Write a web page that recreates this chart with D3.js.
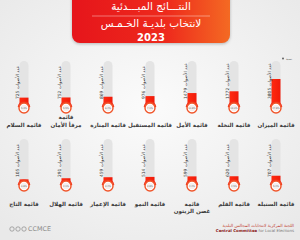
<!DOCTYPE html>
<html><head><meta charset="utf-8">
<script src="https://cdn.jsdelivr.net/npm/d3@7"></script>
<style>html,body{margin:0;padding:0;background:#f1f1f1;}svg{display:block;}</style>
</head><body>
<script>
// ---- data (right-to-left order, two rows) ----
const rowTopLists = ["قائمة الميزان","قائمة النخلة","قائمة الأمل","قائمة المستقبل","قائمة المنارة","قائمة|مرفأ الأمان","قائمة السلام"];
const rowTopVotes = [3805, 1772, 1479, 976, 869, 752, 725];
const rowBottomLists = ["قائمة السنبلة","قائمة القلم","قائمة|غصن الزيتون","قائمة النمو","قائمة الإعمار","قائمة الهلال","قائمة التاج"];
const rowBottomVotes = [707, 620, 599, 514, 459, 291, 105];
const titleLines = ["النتـــائج المبـــدئية", "لانتخاب بلديـة الخـمـس", "2023"];
const voteWord = "عدد الأصوات";

const W = 300, H = 240;
const svg = d3.select("body").append("svg").attr("width", W).attr("height", H);
const defs = svg.append("defs");
const bg = defs.append("radialGradient").attr("id","bg").attr("cx","50%").attr("cy","45%").attr("r","70%");
bg.append("stop").attr("offset","0%").attr("stop-color","#fbfbfb");
bg.append("stop").attr("offset","100%").attr("stop-color","#e9e9e9");
const hg = defs.append("linearGradient").attr("id","hg").attr("x1","0").attr("x2","1");
hg.append("stop").attr("offset","0%").attr("stop-color","#e6151b");
hg.append("stop").attr("offset","60%").attr("stop-color","#ee2a1c");
hg.append("stop").attr("offset","100%").attr("stop-color","#f46a23");
const fg = defs.append("linearGradient").attr("id","fg").attr("x1","0").attr("x2","1");
fg.append("stop").attr("offset","0%").attr("stop-color","#ff2a10");
fg.append("stop").attr("offset","100%").attr("stop-color","#f01a0a");

svg.append("rect").attr("width",W).attr("height",H).attr("fill","url(#bg)");

// header
const hdr = svg.append("g");
hdr.append("rect").attr("x",72).attr("y",-12).attr("width",158).attr("height",55).attr("rx",8)
  .attr("fill","url(#hg)").style("filter","drop-shadow(0 1px 1.5px rgba(0,0,0,0.25))");
const font = "'DejaVu Sans', sans-serif";
hdr.append("text").attr("x",151).attr("y",10).attr("text-anchor","middle").attr("fill","#fff")
  .attr("font-family",font).attr("font-size",10.5).attr("direction","rtl").text(titleLines[0]);
hdr.append("line").attr("x1",92).attr("x2",210).attr("y1",16).attr("y2",16).attr("stroke","#fff").attr("stroke-width",0.5).attr("opacity",0.8);
hdr.append("text").attr("x",151).attr("y",27).attr("text-anchor","middle").attr("fill","#fff")
  .attr("font-family",font).attr("font-size",10.5).attr("direction","rtl").text(titleLines[1]);
hdr.append("text").attr("x",151).attr("y",41).attr("text-anchor","middle").attr("fill","#fff")
  .attr("font-family",font).attr("font-size",10).attr("font-weight","bold").text(titleLines[2]);

// scales
const total = d3.sum(rowTopVotes) + d3.sum(rowBottomVotes);
const x = d3.scalePoint().domain(d3.range(7)).range([276, 24]);
const h = d3.scaleLinear().domain([0, d3.max(rowTopVotes)]).range([0, 23]);

const rows = [
  {lists: rowTopLists, votes: rowTopVotes, tubeTop: 61, bulbY: 108, labelY: 127, twoLine: [119, 127]},
  {lists: rowBottomLists, votes: rowBottomVotes, tubeTop: 139, bulbY: 186, labelY: 206, twoLine: [206, 213]}
];

rows.forEach(r => {
  const base = r.bulbY - 6; // fill baseline
  const g = svg.append("g").selectAll("g").data(r.votes.map((v,i)=>({v, i, name:r.lists[i]})))
    .join("g").attr("transform", d => `translate(${x(d.i)},0)`);
  g.append("rect").attr("x",-4.5).attr("y",r.tubeTop).attr("width",9).attr("height", r.bulbY - r.tubeTop)
    .attr("rx",4.5).attr("fill","#e4e4e4");
  g.append("rect").attr("x",-4.5).attr("y", d => base - h(d.v)).attr("width",9)
    .attr("height", d => h(d.v) + 4).attr("fill","url(#fg)");
  // cap
  g.append("path").attr("d", d3.arc()({innerRadius:5.2, outerRadius:6.4, startAngle:-Math.PI*0.45, endAngle:Math.PI*0.45}))
    .attr("transform",`translate(0,${r.bulbY})`).attr("fill","#f2331c");
  g.append("circle").attr("cy",r.bulbY).attr("r",5).attr("fill","#fff").attr("stroke","#f0552a").attr("stroke-width",1.4);
  g.append("circle").attr("cy",r.bulbY).attr("r",3.3).attr("fill","#f4efee");
  g.append("text").attr("y",r.bulbY+0.9).attr("text-anchor","middle").attr("font-family",font)
    .attr("font-size",2.4).attr("fill","#666").text(d => (d.v/total*100).toFixed(1)+"%");
  // vertical vote text
  g.append("text").attr("transform", `translate(-5.2,${r.bulbY-9}) rotate(-90)`)
    .attr("font-family",font).attr("font-size",4.4).attr("fill","#333").attr("direction","rtl")
    .attr("text-anchor","end").text(d => voteWord + " " + d.v);
  // labels
  g.each(function(d){
    const parts = d.name.split("|");
    const t = d3.select(this);
    parts.forEach((p, k) => {
      const yy = parts.length === 1 ? r.labelY : r.twoLine[k];
      t.append("text").attr("y", yy).attr("text-anchor","middle").attr("font-family",font)
        .attr("font-size",5.6).attr("font-weight","bold").attr("fill","#3a3a3a").attr("direction","rtl").text(p);
    });
  });
});

// small legend top right
svg.append("circle").attr("cx",283).attr("cy",58.5).attr("r",0.9).attr("fill","#555");
svg.append("text").attr("x",292).attr("y",60).attr("text-anchor","start").attr("direction","rtl").attr("font-family",font)
  .attr("font-size",3).attr("fill","#555").text("نسبة");

// footer
const ft = svg.append("g");
[12,18,24].forEach(cx => ft.append("circle").attr("cx",cx).attr("cy",229).attr("r",2.2).attr("fill","none").attr("stroke","#8a8a8a").attr("stroke-width",0.7));
ft.append("text").attr("x",28).attr("y",231.3).attr("font-family",font).attr("font-size",6.4).attr("fill","#8a8a8a").text("CCMCE");
ft.append("text").attr("x",294).attr("y",226.5).attr("text-anchor","start").attr("font-family",font)
  .attr("font-size",4.2).attr("fill","#c0392b").attr("direction","rtl").text("اللجنة المركزية لانتخابات المجالس البلدية");
const ct = ft.append("text").attr("x",294).attr("y",232).attr("text-anchor","end").attr("font-family",font).attr("font-size",3.9);
ct.append("tspan").attr("fill","#8b1a1a").attr("font-weight","bold").text("Central Committee ");
ct.append("tspan").attr("fill","#777").text("for Local Elections");
</script>
</body></html>
